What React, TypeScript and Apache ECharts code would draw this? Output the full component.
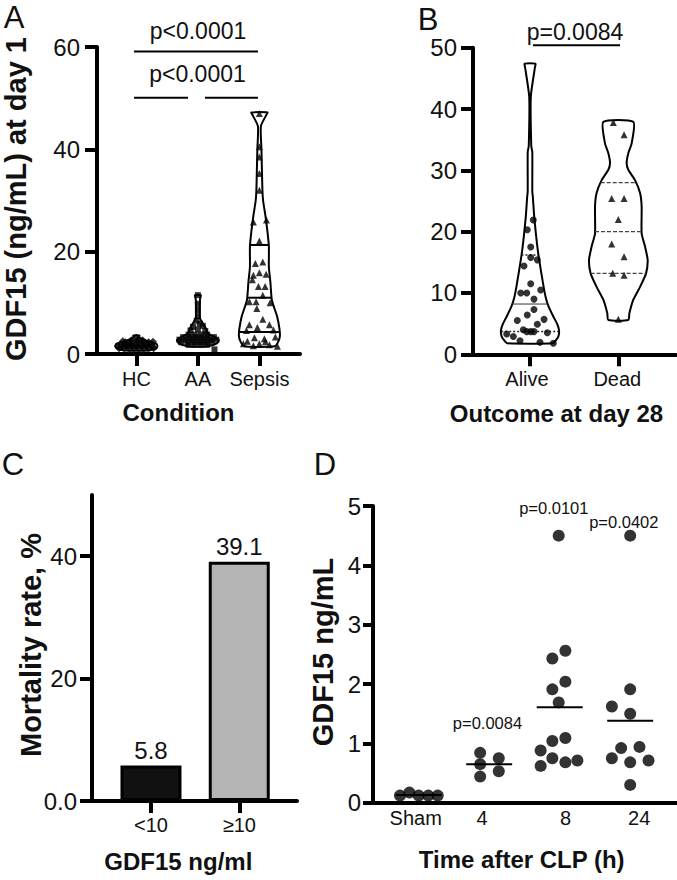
import React, { useEffect, useRef } from "react";
import * as echarts from "echarts";

const FONT = "'Liberation Sans', Arial, Helvetica, sans-serif";

// ---------- Panel A : GDF15 at day 1 by condition ----------
const conditionCats = ["HC", "AA", "Sepsis"];
const aTicks = [0, 20, 40, 60];
// violin outlines: [value, half width in category units]
const hcProfile = [[3.6, 0.049], [3.3, 0.045], [2.9, 0.098], [2.4, 0.211], [2.0, 0.325], [1.5, 0.341], [1.0, 0.309], [0.7, 0.195]];
const aaProfile = [[11.5, 0.049], [11.0, 0.04], [10.5, 0.033], [7, 0.033], [6, 0.081], [5, 0.13], [4, 0.163], [3.3, 0.276], [2.7, 0.341], [2.1, 0.309], [1.5, 0.163]];
const sepsisProfile = [[47.2, 0.13], [46.6, 0.106], [44.5, 0.024], [40, 0.033], [36, 0.041], [32, 0.049], [30, 0.06], [27, 0.098], [24, 0.13], [21, 0.154], [17, 0.154], [14, 0.179], [10.5, 0.203], [7.3, 0.289], [5, 0.325], [3.5, 0.333], [2.5, 0.309], [1.5, 0.252]];
const sepsisQuartiles = [21.3, 11, 4.3];
// points: [jitter, value]
const hcPoints = [
  [-0.28, 1.1], [-0.2, 1.1], [-0.12, 1.1], [-0.04, 1.1], [0.04, 1.1], [0.12, 1.1], [0.2, 1.1], [0.28, 1.1],
  [-0.3, 1.5], [-0.22, 1.5], [-0.14, 1.5], [-0.06, 1.5], [0.02, 1.5], [0.1, 1.5], [0.18, 1.5], [0.26, 1.5],
  [-0.25, 1.9], [-0.17, 1.9], [-0.09, 1.9], [0, 1.9], [0.09, 1.9], [0.17, 1.9], [0.25, 1.9],
  [-0.18, 2.3], [-0.08, 2.3], [0.02, 2.3], [0.12, 2.3], [0.2, 2.3],
  [-0.08, 2.7], [0.02, 2.7], [0.1, 2.7], [0, 3.2], [-0.22, 2.5], [0.27, 2.4]
];
const aaPoints = [
  [0, 11.5], [0, 9.8], [0, 8.6], [0, 7.4], [-0.02, 6.5], [0.03, 5.9], [-0.08, 5.3], [0.08, 5.5], [-0.12, 4.6], [0, 4.8], [0.12, 4.5],
  [-0.15, 3.8], [-0.05, 3.8], [0.05, 3.8], [0.15, 3.8],
  [-0.24, 3.3], [-0.14, 3.3], [-0.04, 3.3], [0.06, 3.3], [0.16, 3.3], [0.26, 3.3],
  [-0.3, 2.8], [-0.2, 2.8], [-0.1, 2.8], [0, 2.8], [0.1, 2.8], [0.2, 2.8], [0.3, 2.8],
  [-0.27, 2.3], [-0.17, 2.3], [-0.07, 2.3], [0.03, 2.3], [0.13, 2.3], [0.23, 2.3],
  [-0.15, 1.8], [-0.05, 1.8], [0.05, 1.8], [0.15, 1.8], [0.27, 0.9]
];
const sepsisPoints = [
  [0, 47.0], [0, 40.5], [0, 38.5], [0, 35.3], [0, 32], [-0.098, 25.8], [0.114, 26.2], [0, 22.1],
  [-0.065, 17.7], [0.055, 18], [-0.098, 15.4], [-0.114, 14.5], [0, 15.9], [0.109, 15.6], [-0.016, 13.2],
  [0.093, 13.2], [0.055, 11.5], [-0.163, 10.2], [-0.054, 10.2], [0.174, 10], [-0.042, 8.9], [0.055, 6.8],
  [-0.163, 5.7], [-0.033, 5.2], [0.163, 5.7], [-0.211, 4.6], [0.228, 4.7], [-0.081, 3.2], [0.081, 3.0],
  [0.26, 3.3], [-0.195, 2.5], [0, 2.0], [0.163, 1.8], [-0.098, 1.6], [0.098, 2.4], [-0.26, 2.0], [0.293, 1.5]
];
const aBrackets = [[-0.039, 1.977, 59.1], [-0.039, 0.839, 50.1], [1.115, 1.977, 50.1]];

// ---------- Panel B : outcome at day 28 ----------
const outcomeCats = ["Alive", "Dead"];
const bTicks = [0, 10, 20, 30, 40, 50];
const aliveProfile = [[47.4, 0.062], [46.9, 0.057], [42, 0.009], [34, 0.014], [33, 0.026], [26.5, 0.026], [25.7, 0.032], [22.4, 0.048], [17, 0.088], [11.6, 0.147], [9.4, 0.176], [7.8, 0.21], [6.1, 0.266], [5, 0.306], [4, 0.328], [3, 0.323], [2.3, 0.294], [1.8, 0.26]];
const deadProfile = [[37.9, 0.17], [34.4, 0.151], [32.8, 0.113], [31.2, 0.094], [30.1, 0.113], [28.4, 0.189], [26.3, 0.246], [24.1, 0.264], [19.7, 0.264], [17.6, 0.302], [15.4, 0.332], [13.2, 0.314], [11.0, 0.246], [8.9, 0.17], [6.7, 0.125], [5.6, 0.113]];
const aliveQuartiles = [16.2, 8.2, 3.7];
const deadQuartiles = [28.0, 20.0, 13.2];
const alivePoints = [
  [0.037, 21.9], [-0.031, 20.3], [0.008, 17.5], [0.008, 15.8], [0.083, 15.4], [-0.068, 14.4], [0.008, 11.5],
  [-0.105, 10.0], [-0.037, 10.0], [0.121, 10.5], [0.045, 9.0], [0.045, 7.3], [-0.031, 6.4], [-0.144, 5.5],
  [0.083, 4.9], [0.159, 5.7], [-0.076, 4.0], [-0.037, 3.7], [0.008, 3.7], [0.045, 3.7], [0.196, 3.5],
  [-0.264, 3.3], [-0.189, 2.9], [-0.113, 2.2], [0.113, 1.95], [0.264, 1.8]
];
const deadPoints = [
  [-0.057, 37.8], [0.065, 35.8], [-0.075, 25.4], [0.065, 25.4], [0, 22.0], [-0.075, 18.0], [0.065, 15.9],
  [-0.063, 13.2], [0.065, 12.9], [0, 5.7]
];
const bBrackets = [[0.034, 1.019, 50.4]];

// ---------- Panel C : mortality ----------
const gdfGroups = ["<10", "≥10"];
const mortalityRate = [5.8, 39.1];
const cTicks = [0, 20, 40];

// ---------- Panel D : mouse CLP ----------
const timeCats = ["Sham", "4", "8", "24"];
const dTicks = [0, 1, 2, 3, 4, 5];
const shamPoints = [[-0.265, 0.12], [-0.132, 0.17], [0, 0.12], [0.137, 0.12], [0.27, 0.12]];
const h4Points = [[-0.128, 0.84], [0.136, 0.75], [-0.128, 0.65], [0.136, 0.53], [-0.128, 0.44]];
const h8Points = [
  [-0.014, 4.5], [0.081, 2.56], [-0.104, 2.43], [0.081, 2.04], [-0.104, 1.91], [-0.014, 1.69], [-0.104, 1.04],
  [0.081, 1.09], [-0.27, 0.88], [-0.104, 0.75], [0.081, 0.68], [0.251, 0.71], [-0.27, 0.62]
];
const h24Points = [
  [0, 4.5], [0, 1.91], [-0.26, 1.62], [0, 1.5], [-0.128, 0.92], [0.132, 0.94], [-0.26, 0.75], [0, 0.68], [0.26, 0.71], [0, 0.30]
];
const timeMeans = [0.13, 0.65, 1.61, 1.38];

// ---------- helpers ----------
function hwAt(profile: number[][], v: number): number {
  const p = profile.slice().sort((a, b) => a[0] - b[0]);
  for (let i = 0; i < p.length - 1; i++) {
    if (v >= p[i][0] && v <= p[i + 1][0]) {
      const t = (v - p[i][0]) / (p[i + 1][0] - p[i][0]);
      return p[i][1] + t * (p[i + 1][1] - p[i][1]);
    }
  }
  return 0;
}

function violinSeries(xi: number, violins: { cat: number; profile: number[][] }[], lw: number) {
  return {
    type: "custom",
    xAxisIndex: xi,
    yAxisIndex: xi,
    z: 1,
    silent: true,
    data: violins.map((v) => [v.cat, v.profile[0][0]]),
    renderItem: (params: any, api: any) => {
      const v = violins[params.dataIndex];
      const right = v.profile.map(([val, hw]) => api.coord([v.cat + hw, val]));
      const left = v.profile.slice().reverse().map(([val, hw]) => api.coord([v.cat - hw, val]));
      return {
        type: "polygon",
        shape: { points: right.concat(left), smooth: 0.2 },
        style: { fill: "#fff", stroke: "#000", lineWidth: lw, lineJoin: "round" },
      };
    },
  };
}

function segSeries(xi: number, segs: number[][], style: any, z: number) {
  return {
    type: "custom",
    xAxisIndex: xi,
    yAxisIndex: xi,
    z,
    silent: true,
    data: segs,
    encode: { x: [0, 1], y: 2 },
    renderItem: (params: any, api: any) => {
      const a = api.coord([api.value(0), api.value(2)]);
      const b = api.coord([api.value(1), api.value(2)]);
      return { type: "line", shape: { x1: a[0], y1: a[1], x2: b[0], y2: b[1] }, style };
    },
  };
}

function scatter(xi: number, cat: number, pts: number[][], symbol: string, size: number) {
  return {
    type: "scatter",
    xAxisIndex: xi,
    yAxisIndex: xi,
    z: 3,
    silent: true,
    symbol,
    symbolSize: size,
    itemStyle: { color: "#000" },
    data: pts.map(([o, v]) => [cat + o, v]),
  };
}

const AX = { color: "#000", width: 4 };

function yAxisDef(gi: number, max: number, ticks: number[], margin: number, tickLen: number, fmt?: (v: number) => string) {
  return {
    type: "value",
    gridIndex: gi,
    min: 0,
    max,
    axisLine: { show: true, onZero: false, lineStyle: AX },
    axisTick: { show: true, length: tickLen, customValues: ticks, lineStyle: AX },
    axisLabel: {
      margin,
      fontSize: 24,
      color: "#111",
      fontFamily: FONT,
      customValues: ticks,
      formatter: fmt ? fmt : (v: number) => String(v),
    },
    splitLine: { show: false },
  };
}

// shifts: horizontal nudge (px) of each tick label, as in the original figure
function xAxisDef(gi: number, min: number, max: number, cats: string[], margin: number, showTick: boolean, tickLen: number, shifts: number[]) {
  const vals = cats.map((_, i) => i);
  const rich: any = {};
  shifts.forEach((s, i) => {
    rich["l" + i] = {
      fontSize: 20,
      color: "#111",
      fontFamily: FONT,
      padding: s >= 0 ? [0, 0, 0, 2 * s] : [0, -2 * s, 0, 0],
    };
  });
  return {
    type: "value",
    gridIndex: gi,
    min,
    max,
    axisLine: { show: true, onZero: false, lineStyle: AX },
    axisTick: { show: showTick, length: tickLen, customValues: vals, lineStyle: AX },
    axisLabel: {
      margin,
      fontSize: 20,
      color: "#111",
      fontFamily: FONT,
      customValues: vals,
      formatter: (v: number) => {
        const i = Math.round(v);
        return cats[i] !== undefined ? "{l" + i + "|" + cats[i] + "}" : "";
      },
      rich,
    },
    splitLine: { show: false },
  };
}

function txt(text: string, x: number, y: number, size: number, bold: boolean, rot = 0) {
  return {
    type: "text",
    x,
    y,
    rotation: rot,
    silent: true,
    style: {
      text,
      fontSize: size,
      fontWeight: bold ? "bold" : "normal",
      fontFamily: FONT,
      fill: "#111",
      align: "center",
      verticalAlign: "middle",
    },
  };
}

export default function App() {
  const ref = useRef<HTMLDivElement>(null);
  useEffect(() => {
    if (!ref.current) return;
    const chart = echarts.init(ref.current, undefined, { renderer: "svg" });

    const quartA = sepsisQuartiles.map((q) => [2 - hwAt(sepsisProfile, q), 2 + hwAt(sepsisProfile, q), q]);
    const aliveQ = aliveQuartiles.map((q) => [0 - hwAt(aliveProfile, q), 0 + hwAt(aliveProfile, q), q]);
    const deadQ = deadQuartiles.map((q) => [1 - hwAt(deadProfile, q), 1 + hwAt(deadProfile, q), q]);
    const meanSegs = timeMeans.map((m, i) => [i - 0.326, i + 0.326, m]);

    const option: any = {
      animation: false,
      backgroundColor: "#fff",
      grid: [
        { left: 97, top: 47, width: 203, height: 307 },
        { left: 473, top: 47.7, width: 203, height: 306.6 },
        { left: 92, top: 495, width: 205, height: 306 },
        { left: 373, top: 506, width: 304, height: 296.7 },
      ],
      xAxis: [
        xAxisDef(0, -0.64, 2.66, conditionCats, 15, true, 12, [0, 0, 0]),
        xAxisDef(1, -0.6455, 1.653, outcomeCats, 15, true, 12, [-3, -1]),
        xAxisDef(2, -0.668, 1.654, gdfGroups, 14, true, 12, [0, 0]),
        xAxisDef(3, -0.648, 3.664, timeCats, 5, false, 0, [-3, -7, 6, 9]),
      ],
      yAxis: [
        yAxisDef(0, 60, aTicks, 17, 12),
        yAxisDef(1, 50, bTicks, 16, 12),
        yAxisDef(2, 50, cTicks, 15, 12, (v: number) => (v === 0 ? "0.0" : String(v))),
        yAxisDef(3, 5, dTicks, 12, 10),
      ],
      series: [
        // A
        violinSeries(0, [
          { cat: 0, profile: hcProfile },
          { cat: 1, profile: aaProfile },
          { cat: 2, profile: sepsisProfile },
        ], 2),
        scatter(0, 0, hcPoints, "diamond", 8),
        scatter(0, 1, aaPoints, "rect", 6),
        scatter(0, 2, sepsisPoints, "triangle", 7),
        segSeries(0, quartA, { stroke: "#000", lineWidth: 2 }, 4),
        segSeries(0, aBrackets, { stroke: "#000", lineWidth: 2 }, 4),
        // B
        violinSeries(1, [
          { cat: 0, profile: aliveProfile },
          { cat: 1, profile: deadProfile },
        ], 2),
        scatter(1, 0, alivePoints, "circle", 7),
        scatter(1, 1, deadPoints, "triangle", 7),
        segSeries(1, [aliveQ[0], aliveQ[2]], { stroke: "#222", lineWidth: 1.5, lineDash: [2, 2] }, 2),
        segSeries(1, [aliveQ[1]], { stroke: "#333", lineWidth: 1 }, 2),
        segSeries(1, deadQ, { stroke: "#444", lineWidth: 1.2, lineDash: [4, 2] }, 2),
        segSeries(1, bBrackets, { stroke: "#000", lineWidth: 2 }, 4),
        // C
        {
          type: "bar",
          xAxisIndex: 2,
          yAxisIndex: 2,
          barWidth: 61,
          silent: true,
          data: mortalityRate.map((v, i) => ({
            value: [i, v],
            itemStyle: { color: i === 0 ? "#111" : "#b4b4b4", borderColor: "#000", borderWidth: 3 },
          })),
          label: {
            show: true,
            position: "top",
            distance: 3,
            fontSize: 24,
            color: "#111",
            fontFamily: FONT,
            formatter: (p: any) => String(p.value[1]),
          },
        },
        // D
        scatter(3, 0, shamPoints, "circle", 12),
        scatter(3, 1, h4Points, "circle", 12),
        scatter(3, 2, h8Points, "circle", 12),
        scatter(3, 3, h24Points, "circle", 12),
        segSeries(3, meanSegs, { stroke: "#000", lineWidth: 2 }, 2),
      ],
      graphic: [
        txt("A", 14, 17, 31, false),
        txt("B", 428, 19, 31, false),
        txt("C", 13, 464, 31, false),
        txt("D", 325, 464, 31, false),
        txt("GDF15 (ng/mL) at day 1", 16, 199, 29, true, Math.PI / 2),
        txt("Mortality rate, %", 31, 645, 29, true, Math.PI / 2),
        txt("GDF15 ng/mL", 323, 652, 29, true, Math.PI / 2),
        txt("Condition", 178.5, 412, 24, true),
        txt("Outcome at day 28", 556.5, 413, 24, true),
        txt("GDF15 ng/ml", 178.3, 861.5, 24, true),
        txt("Time after CLP (h)", 521.7, 859, 24, true),
        txt("p<0.0001", 198, 31, 23, false),
        txt("p<0.0001", 197.5, 74, 23, false),
        txt("p=0.0084", 575, 31.5, 23, false),
        txt("p=0.0084", 487.5, 723, 16.5, false),
        txt("p=0.0101", 553.8, 508, 16.5, false),
        txt("p=0.0402", 623.8, 521.7, 16.5, false),
      ],
    };
    chart.setOption(option);
    return () => chart.dispose();
  }, []);
  return (
    <div
      ref={ref}
      style={{ position: "fixed", left: 0, top: 0, width: 677, height: 880, background: "#fff" }}
    />
  );
}
